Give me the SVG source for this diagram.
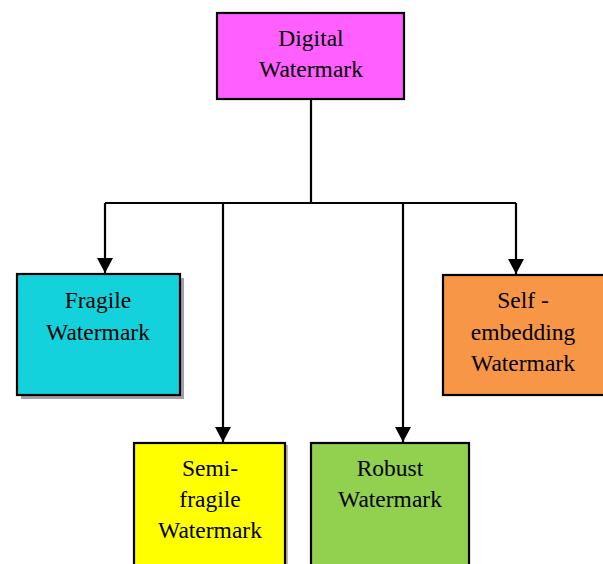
<svg xmlns="http://www.w3.org/2000/svg" width="603" height="564" viewBox="0 0 603 564">
<style>
.box{stroke:#000;stroke-width:2.2}
.sh{fill:#a39eaa}
.t{font-family:"Liberation Serif","Times New Roman",serif;font-size:23.5px;fill:#000;text-anchor:middle}
.c{fill:none;stroke:#000;stroke-width:2.2}
</style>
<defs>
<marker id="ah" markerWidth="16" markerHeight="15" refX="8" refY="15" orient="0" markerUnits="userSpaceOnUse" viewBox="0 0 16 15">
<path d="M0,0 L16,0 L8,15 Z" fill="#000"/>
</marker>
</defs>
<g id="connectors">
<path class="c" d="M311,99 V203"/>
<path class="c" d="M105,203 H516"/>
<path class="c" d="M105,203 V273" marker-end="url(#ah)"/>
<path class="c" d="M223,203 V442" marker-end="url(#ah)"/>
<path class="c" d="M403,203 V442" marker-end="url(#ah)"/>
<path class="c" d="M516,203 V274" marker-end="url(#ah)"/>
</g>
<g id="digital">
<rect class="box" x="217" y="13" width="187" height="86" fill="#ff5fff"/>
<text class="t" x="311" y="46">Digital</text>
<text class="t" x="311" y="77">Watermark</text>
</g>
<g id="fragile">
<rect class="sh" x="21" y="278" width="163" height="121"/>
<rect class="box" x="17" y="274" width="163" height="121" fill="#14d2dc"/>
<text class="t" x="98" y="308">Fragile</text>
<text class="t" x="98" y="340">Watermark</text>
</g>
<g id="semi">
<rect x="137" y="445" width="151" height="125" fill="#c8b4a0"/>
<rect class="box" x="134" y="443" width="151" height="125" fill="#ffff00"/>
<text class="t" x="210" y="476">Semi-</text>
<text class="t" x="210" y="507">fragile</text>
<text class="t" x="210" y="538">Watermark</text>
</g>
<g id="robust">
<rect class="box" x="311" y="443" width="158" height="125" fill="#92d050"/>
<text class="t" x="390" y="476">Robust</text>
<text class="t" x="390" y="507">Watermark</text>
</g>
<g id="self">
<rect class="box" x="443" y="275" width="165" height="120" fill="#f79646"/>
<text class="t" x="523" y="308">Self -</text>
<text class="t" x="523" y="340">embedding</text>
<text class="t" x="523" y="371">Watermark</text>
</g>
</svg>
